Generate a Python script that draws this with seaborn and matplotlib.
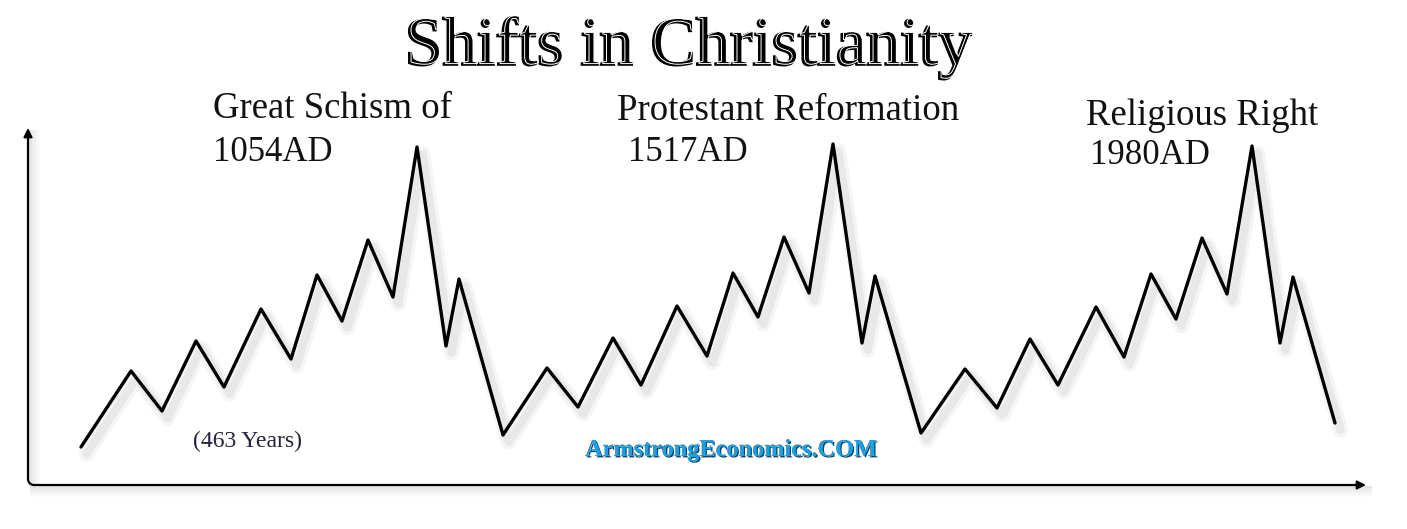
import numpy as np
import pandas as pd
import matplotlib
matplotlib.use("Agg")
import matplotlib.pyplot as plt
import matplotlib.patheffects as pe
import seaborn as sns

# Schematic time axis and relative level of each turning point (three cycles)
time = [53, 103, 134, 168, 196, 233, 263, 289, 314, 340, 365, 389, 418, 431,
        475, 519, 550, 585, 613, 649, 679, 705, 730, 756, 781, 805, 834, 847,
        893, 937, 969, 1002, 1030, 1068, 1096, 1123, 1148, 1174, 1199, 1224,
        1252, 1265, 1307]
level = [38, 114, 74, 144, 98, 176, 126, 210, 164, 245, 188, 338, 139, 206,
         50, 117, 78, 147, 100, 179, 129, 212, 168, 248, 192, 341, 142, 209,
         52, 116, 77, 146, 100, 178, 128, 211, 166, 247, 191, 339, 142, 208,
         62]

event_names = ["Great Schism of", "Protestant Reformation", "Religious Right"]
event_years = ["1054AD", "1517AD", "1980AD"]
span_label = "(463 Years)"
title = "Shifts in Christianity"
credit = "ArmstrongEconomics.COM"

df = pd.DataFrame({"time": time, "level": level})

sns.set_style("white")
plt.rcParams["font.family"] = ["Liberation Serif", "DejaVu Serif"]

W, H = 1407, 529
fig = plt.figure(figsize=(W / 100, H / 100), dpi=100)
fig.patch.set_facecolor("white")

ox, oy = 28, 44          # axes origin in pixels (from bottom-left)
aw, ah = 1338, 357
ax = fig.add_axes([ox / W, oy / H, aw / W, ah / H])
ax.set_xlim(0, aw)
ax.set_ylim(0, ah)
ax.axis("off")

# soft drop shadows along the axis lines
def gradient(n, horizontal):
    a = np.linspace(0.22, 0.0, n) ** 1.1
    rgba = np.zeros((1, n, 4)) if horizontal else np.zeros((n, 1, 4))
    if horizontal:
        rgba[0, :, :3] = 0.4
        rgba[0, :, 3] = a
    else:
        rgba[:, 0, :3] = 0.4
        rgba[:, 0, 3] = a
    return rgba

ax.imshow(gradient(40, False), extent=(2, aw + 6, -13, -1), aspect="auto",
          origin="upper", clip_on=False, zorder=1, interpolation="bilinear")
ax.imshow(gradient(40, True), extent=(1, 13, 0, ah - 2), aspect="auto",
          clip_on=False, zorder=1, interpolation="bilinear")

# axis lines with a rounded corner and arrow heads
r = 6
th = np.linspace(np.pi, 1.5 * np.pi, 20)
arc_x = r + r * np.cos(th)
arc_y = r + r * np.sin(th)
fx = np.concatenate([[0], arc_x, [aw - 4]])
fy = np.concatenate([[ah - 4], arc_y, [0]])
ax.plot(fx, fy, color="black", lw=1.6, clip_on=False, zorder=3,
        solid_capstyle="butt")
arrow = dict(arrowstyle="-|>", color="black", lw=1.4, mutation_scale=13,
             shrinkA=0, shrinkB=0)
ax.annotate("", xy=(0, ah), xytext=(0, ah - 20), arrowprops=arrow,
            annotation_clip=False, zorder=3)
ax.annotate("", xy=(aw, 0), xytext=(aw - 20, 0), arrowprops=arrow,
            annotation_clip=False, zorder=3)

# the cycle line with a faint soft shadow
shadow = [
    pe.SimpleLineShadow(offset=(4, -5), shadow_color="black", alpha=0.04,
                        linewidth=11),
    pe.SimpleLineShadow(offset=(4, -5), shadow_color="black", alpha=0.05,
                        linewidth=6),
    pe.Normal(),
]
sns.lineplot(data=df, x="time", y="level", ax=ax, color="black", lw=2.4,
             sort=False, estimator=None, zorder=4, path_effects=shadow)
ax.axis("off")
ax.set_xlim(0, aw)
ax.set_ylim(0, ah)

def px(x, y_top):
    """pixel position measured from the top-left corner -> figure fraction"""
    return x / W, 1 - y_top / H

# title with an engraved look: dark letters with a thin light inline
fig.text(*px(688, 64), title, ha="center", va="baseline", fontsize=49,
         color="black", family=["Liberation Serif"],
         path_effects=[pe.PathPatchEffect(offset=(-0.6, -0.6),
                                          facecolor="black",
                                          edgecolor="black", linewidth=1.4),
                       pe.PathPatchEffect(offset=(0.9, 0.3),
                                          facecolor="none",
                                          edgecolor="white", linewidth=0.7)])

# event labels
name_pos = [(213, 118), (617, 120), (1086, 125)]
year_pos = [(213, 161), (628, 161), (1090, 164)]
for name, (x, y) in zip(event_names, name_pos):
    fig.text(*px(x, y), name, ha="left", va="baseline", fontsize=26.5,
             color="#111111")
for yr, (x, y) in zip(event_years, year_pos):
    fig.text(*px(x, y), yr, ha="left", va="baseline", fontsize=25,
             color="#111111")

fig.text(*px(193, 447), span_label, ha="left", va="baseline", fontsize=17,
         color="#23233a")

fig.text(*px(585, 456), credit, ha="left", va="baseline", fontsize=17.5,
         fontweight="bold", color="#1d9fe0",
         path_effects=[pe.withSimplePatchShadow(offset=(1.0, -1.0),
                                                shadow_rgbFace="#0a2740",
                                                alpha=0.9),
                       pe.Normal()])

fig.savefig("out.png", dpi=100, facecolor="white")
